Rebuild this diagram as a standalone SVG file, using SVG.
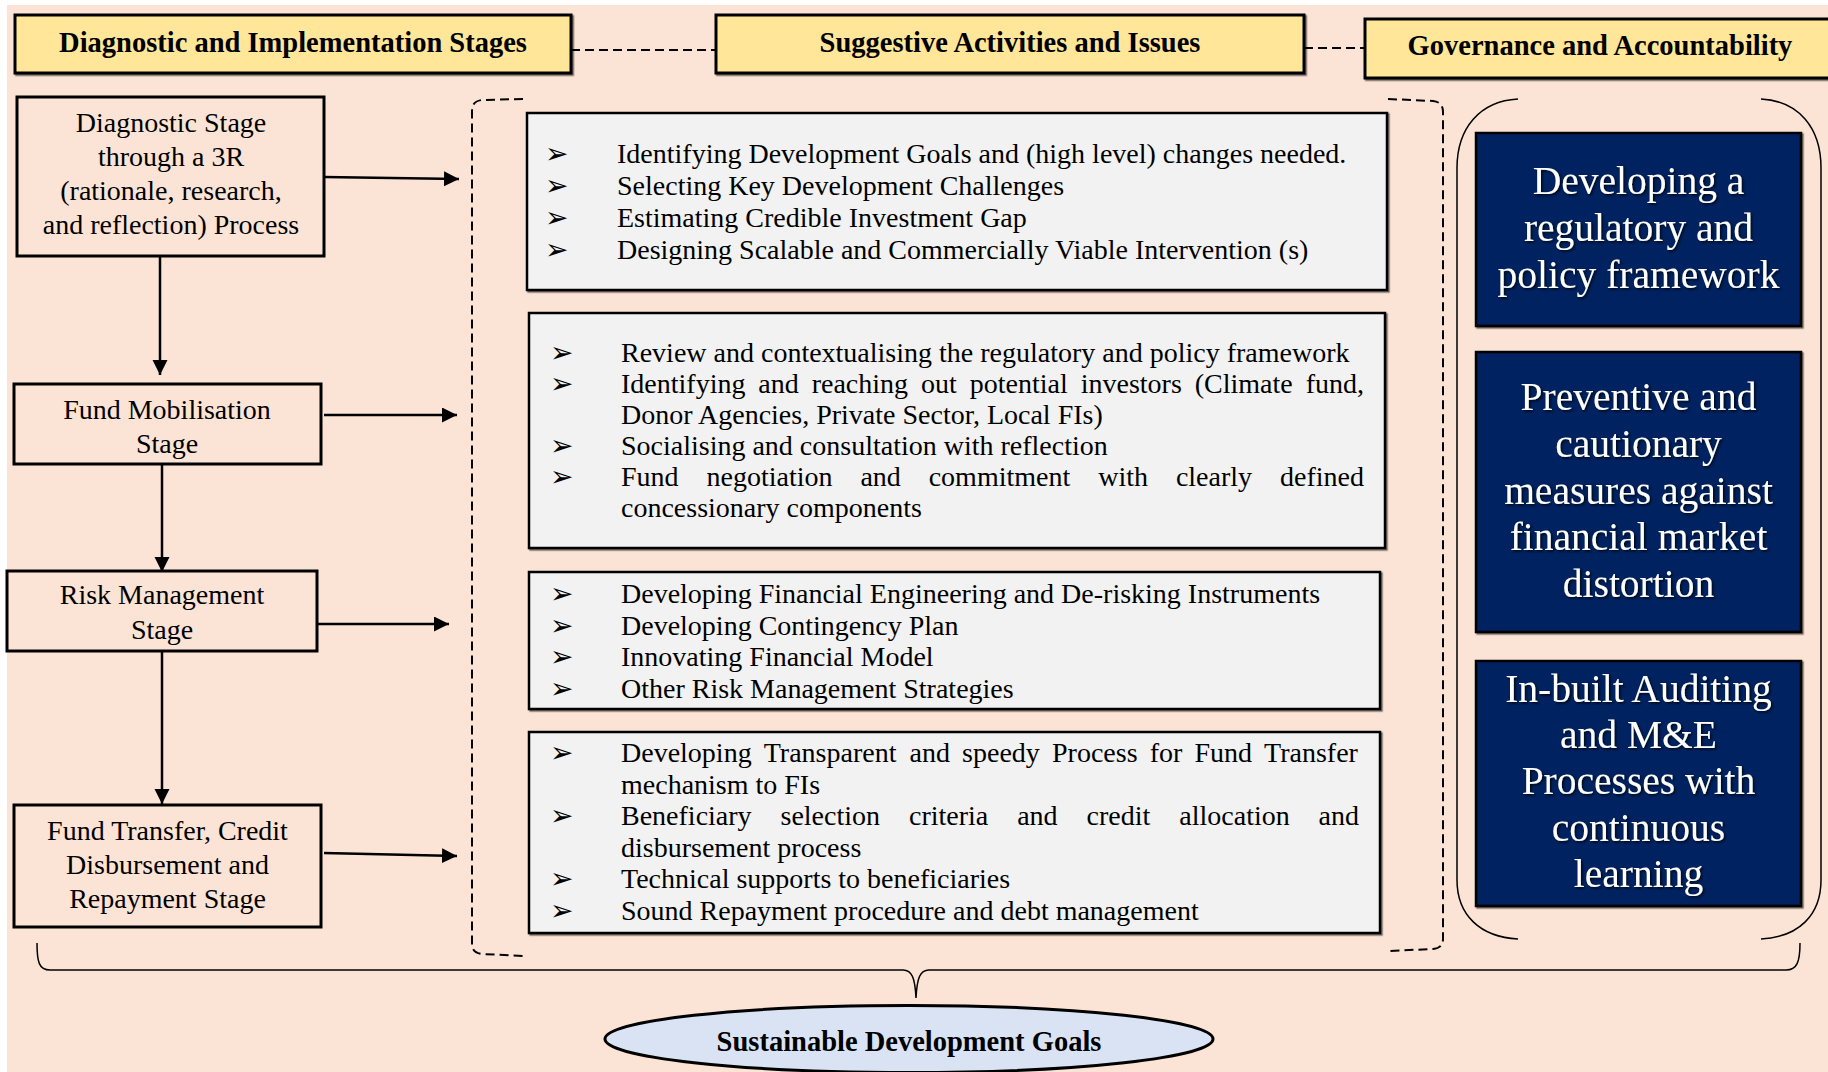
<svg xmlns="http://www.w3.org/2000/svg" width="1828" height="1072" viewBox="0 0 1828 1072">
<defs>
<style>
.bg{fill:#FBE4D5}
.hdr{fill:#FFE699;stroke:#000;stroke-width:3}
.hdrt{font-family:"Liberation Serif",serif;font-weight:bold;font-size:28.5px;fill:#000;text-anchor:middle}
.stage{fill:none;stroke:#000;stroke-width:3}
.stt{font-family:"Liberation Serif",serif;font-size:28px;fill:#000;text-anchor:middle}
.act{fill:#F2F2F2;stroke:#000;stroke-width:2.5}
.li{font-family:"Liberation Serif",serif;font-size:28px;fill:#000}
.bul{font-family:"DejaVu Sans",sans-serif;font-size:28px;fill:#000}
.gov{fill:#002060;stroke:#000;stroke-width:2.5}
.govt{font-family:"Liberation Serif",serif;font-size:39.5px;fill:#fff;text-anchor:middle}
.arrow{stroke:#000;stroke-width:2.5;fill:none}
.dash{stroke:#000;stroke-width:2;fill:none;stroke-dasharray:9 5}
.thin{stroke:#000;stroke-width:1.5;fill:none}
.sdg{fill:#DAE3F3;stroke:#000;stroke-width:3}
</style>
<marker id="ah" markerUnits="userSpaceOnUse" markerWidth="16" markerHeight="16" refX="15" refY="7.5" orient="auto">
<path d="M0,0 L15,7.5 L0,15 z" fill="#000"/>
</marker>
<filter id="sh" x="-5%" y="-5%" width="110%" height="115%">
<feDropShadow dx="1.5" dy="1.5" stdDeviation="0.6" flood-color="#000" flood-opacity="0.55"/>
</filter>
<filter id="tsh" x="-5%" y="-10%" width="110%" height="130%">
<feDropShadow dx="1.5" dy="1.5" stdDeviation="1" flood-color="#000" flood-opacity="0.8"/>
</filter>
</defs>

<rect x="7" y="5" width="1821" height="1067" class="bg"/>

<!-- Headers -->
<g id="header-diagnostic">
<rect x="15" y="15" width="556" height="58" class="hdr" filter="url(#sh)"/>
<text x="293" y="52" class="hdrt">Diagnostic and Implementation Stages</text>
</g>
<g id="header-activities">
<rect x="716" y="15" width="588" height="58" class="hdr" filter="url(#sh)"/>
<text x="1010" y="52" class="hdrt">Suggestive Activities and Issues</text>
</g>
<g id="header-governance">
<rect x="1365" y="19" width="480" height="59" class="hdr" filter="url(#sh)"/>
<text x="1600" y="55" class="hdrt">Governance and Accountability</text>
</g>

<!-- Stage nodes -->
<g id="stage-diagnostic">
<rect x="17" y="97" width="307" height="159" class="stage"/>
<text class="stt"><tspan x="171" y="132">Diagnostic Stage</tspan><tspan x="171" y="166">through a 3R</tspan><tspan x="171" y="200">(rationale, research,</tspan><tspan x="171" y="234">and reflection) Process</tspan></text>
</g>
<g id="stage-fund-mobilisation">
<rect x="14" y="384" width="307" height="80" class="stage"/>
<text class="stt"><tspan x="167" y="419">Fund Mobilisation</tspan><tspan x="167" y="453">Stage</tspan></text>
</g>
<g id="stage-risk">
<rect x="7" y="571" width="310" height="80" class="stage"/>
<text class="stt"><tspan x="162" y="604">Risk Management</tspan><tspan x="162" y="639">Stage</tspan></text>
</g>
<g id="stage-fund-transfer">
<rect x="14" y="805" width="307" height="122" class="stage"/>
<text class="stt"><tspan x="167.5" y="840">Fund Transfer, Credit</tspan><tspan x="167.5" y="874">Disbursement and</tspan><tspan x="167.5" y="908">Repayment Stage</tspan></text>
</g>

<!-- Activity boxes -->
<g id="activities-diagnostic">
<rect x="527" y="113" width="860" height="177" class="act" filter="url(#sh)"/>
<text class="bul" x="545" y="163">➢</text>
<text class="bul" x="545" y="195">➢</text>
<text class="bul" x="545" y="227">➢</text>
<text class="bul" x="545" y="259">➢</text>
<text class="li" x="617" y="163">Identifying Development Goals and (high level) changes needed.</text>
<text class="li" x="617" y="195">Selecting Key Development Challenges</text>
<text class="li" x="617" y="227">Estimating Credible Investment Gap</text>
<text class="li" x="617" y="259">Designing Scalable and Commercially Viable Intervention (s)</text>
</g>
<g id="activities-fund-mobilisation">
<rect x="529" y="313" width="856" height="235" class="act" filter="url(#sh)"/>
<text class="bul" x="550" y="362">➢</text>
<text class="bul" x="550" y="393">➢</text>
<text class="bul" x="550" y="455">➢</text>
<text class="bul" x="550" y="486">➢</text>
<text class="li" x="621" y="362">Review and contextualising the regulatory and policy framework</text>
<text class="li" y="393"><tspan x="621">Identifying</tspan><tspan x="758.3">and</tspan><tspan x="811.7">reaching</tspan><tspan x="921">out</tspan><tspan x="969.8">potential</tspan><tspan x="1080.7">investors</tspan><tspan x="1194.7">(Climate</tspan><tspan x="1305.7">fund,</tspan></text>
<text class="li" x="621" y="424">Donor Agencies, Private Sector, Local FIs)</text>
<text class="li" x="621" y="455">Socialising and consultation with reflection</text>
<text class="li" y="486"><tspan x="621">Fund</tspan><tspan x="706.5">negotiation</tspan><tspan x="860.4">and</tspan><tspan x="928.7">commitment</tspan><tspan x="1098.2">with</tspan><tspan x="1175.9">clearly</tspan><tspan x="1280">defined</tspan></text>
<text class="li" x="621" y="517">concessionary components</text>
</g>
<g id="activities-risk">
<rect x="529" y="572" width="851" height="137" class="act" filter="url(#sh)"/>
<text class="bul" x="550" y="603">➢</text>
<text class="bul" x="550" y="634.5">➢</text>
<text class="bul" x="550" y="666">➢</text>
<text class="bul" x="550" y="697.5">➢</text>
<text class="li" x="621" y="603">Developing Financial Engineering and De-risking Instruments</text>
<text class="li" x="621" y="634.5">Developing Contingency Plan</text>
<text class="li" x="621" y="666">Innovating Financial Model</text>
<text class="li" x="621" y="697.5">Other Risk Management Strategies</text>
</g>
<g id="activities-fund-transfer">
<rect x="529" y="732" width="851" height="201" class="act" filter="url(#sh)"/>
<text class="bul" x="550" y="762">➢</text>
<text class="bul" x="550" y="825">➢</text>
<text class="bul" x="550" y="888">➢</text>
<text class="bul" x="550" y="920">➢</text>
<text class="li" y="762"><tspan x="621">Developing</tspan><tspan x="763.7">Transparent</tspan><tspan x="909.6">and</tspan><tspan x="962.1">speedy</tspan><tspan x="1052">Process</tspan><tspan x="1149.7">for</tspan><tspan x="1194.4">Fund</tspan><tspan x="1264.1">Transfer</tspan></text>
<text class="li" x="621" y="794">mechanism to FIs</text>
<text class="li" y="825"><tspan x="621">Beneficiary</tspan><tspan x="780.5">selection</tspan><tspan x="909">criteria</tspan><tspan x="1017.2">and</tspan><tspan x="1086.6">credit</tspan><tspan x="1179.3">allocation</tspan><tspan x="1318.6">and</tspan></text>
<text class="li" x="621" y="857">disbursement process</text>
<text class="li" x="621" y="888">Technical supports to beneficiaries</text>
<text class="li" x="621" y="920">Sound Repayment procedure and debt management</text>
</g>

<!-- Governance nodes -->
<g id="gov-regulatory">
<rect x="1476" y="133" width="325" height="193" class="gov" filter="url(#sh)"/>
<text class="govt" filter="url(#tsh)"><tspan x="1638.5" y="194">Developing a</tspan><tspan x="1638.5" y="241">regulatory and</tspan><tspan x="1638.5" y="288">policy framework</tspan></text>
</g>
<g id="gov-preventive">
<rect x="1476" y="352" width="325" height="280" class="gov" filter="url(#sh)"/>
<text class="govt" filter="url(#tsh)"><tspan x="1638.5" y="410">Preventive and</tspan><tspan x="1638.5" y="457">cautionary</tspan><tspan x="1638.5" y="503.5">measures against</tspan><tspan x="1638.5" y="550">financial market</tspan><tspan x="1638.5" y="597">distortion</tspan></text>
</g>
<g id="gov-auditing">
<rect x="1476" y="661" width="325" height="245" class="gov" filter="url(#sh)"/>
<text class="govt" filter="url(#tsh)"><tspan x="1638.5" y="702">In-built Auditing</tspan><tspan x="1638.5" y="748">and M&amp;E</tspan><tspan x="1638.5" y="794">Processes with</tspan><tspan x="1638.5" y="841">continuous</tspan><tspan x="1638.5" y="887">learning</tspan></text>
</g>

<!-- Goal node -->
<g id="goal-sdg">
<ellipse cx="909" cy="1039" rx="304" ry="33.5" class="sdg"/>
<text x="909" y="1051" class="hdrt">Sustainable Development Goals</text>
</g>

<!-- Connectors and brackets -->
<g id="connectors">
<path class="dash" d="M571,50 L716,50"/>
<path class="dash" d="M1304,48 L1365,48"/>
<path class="arrow" marker-end="url(#ah)" d="M324,177 L459,179"/>
<path class="arrow" marker-end="url(#ah)" d="M324,415 L457,415"/>
<path class="arrow" marker-end="url(#ah)" d="M317,624 L449,624"/>
<path class="arrow" marker-end="url(#ah)" d="M324,853 L457,856"/>
<path class="arrow" marker-end="url(#ah)" d="M160,256 L160,375"/>
<path class="arrow" marker-end="url(#ah)" d="M162,465 L162,572"/>
<path class="arrow" marker-end="url(#ah)" d="M162,651 L162,804"/>
<path class="dash" d="M523,99 L482,100 Q472,101 472,111 L472,944 Q472,953 482,954 L524,956"/>
<path class="dash" d="M1388,99 L1433,101 Q1443,102 1443,112 L1443,939 Q1443,948 1433,949 L1388,951"/>
<path class="thin" d="M1518,99 C1480,101 1457,128 1457,168 L1457,880 C1457,915 1480,937 1518,939"/>
<path class="thin" d="M1761,99 C1799,101 1821,128 1821,168 L1821,880 C1821,915 1799,937 1761,939"/>
<path class="thin" d="M37,943 C37,962 39,970 50,970 L903,970 C912,970 915,978 916,998 C917,978 920,970 929,970 L1786,970 C1797,970 1800,962 1800,943"/>
</g>
</svg>
